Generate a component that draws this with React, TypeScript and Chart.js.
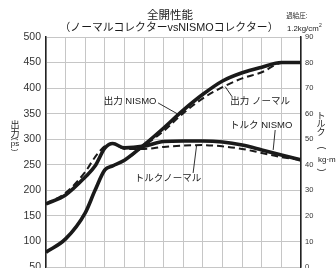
import React, { useEffect, useRef } from "react";
import { Chart, registerables } from "chart.js";

Chart.register(...registerables);

// ---- data (rpm on x, ps on left axis, kg·m on right axis) ----
const rpm = [2000, 2500, 3000, 3250, 3500, 3700, 4000, 4500, 5000, 5500, 6000, 6500, 7000, 7500, 8000, 8500];
const powerNismo = [79, 105, 156, 200, 240, 248, 259, 289, 322, 357, 388, 414, 430, 441, 450, 450];
const powerNormal = [79, 105, 156, 200, 240, 248, 259, 287, 316, 351, 380, 402, 419, 431, 449, 450];
const torqueNismo = [24.7, 28.2, 35.2, 39.5, 46.5, 48.3, 46.6, 47.3, 49.1, 49.3, 49.3, 48.9, 47.7, 45.8, 43.8, 41.9];
const torqueNormal = [24.7, 29.0, 37.2, 43.0, 47.3, 48.3, 46.2, 46.2, 47.0, 47.5, 47.7, 47.2, 46.2, 44.6, 43.0, 41.9];

const powerTicks = { min: 50, max: 500, step: 50 };
const torqueTicks = { min: 0, max: 90, step: 10 };
const rpmRange = { min: 2000, max: 8500, step: 500 };

const TITLE = "全開性能";
const SUBTITLE = "（ノーマルコレクターvsNISMOコレクター）";
const BOOST_LABEL = "過給圧:";
const BOOST_VALUE = "1.2kg/cm";

// annotation labels: text anchor and leader line in data units (rpm, ps)
const labelTexts = ["出力 NISMO", "出力 ノーマル", "トルク NISMO", "トルクノーマル"];
const labelAnchors = [
  [4143, 374],
  [7459, 375],
  [7485, 327],
  [5112, 224],
];
const leaderLines = [
  [4857, 371, 5342, 350],
  [6566, 403, 6745, 383],
  [7842, 318, 7791, 279],
  [5750, 234, 5839, 288],
];

const FONT = '"Liberation Sans", Arial, "Noto Sans CJK JP", sans-serif';
const INK = "#1a1a1a";

function rotText(ctx: CanvasRenderingContext2D, t: string, x: number, y: number) {
  ctx.save();
  ctx.translate(x, y);
  ctx.rotate(Math.PI / 2);
  ctx.fillText(t, 0, 0);
  ctx.restore();
}

const textPlugin = {
  id: "texts",
  afterDraw(chart: any) {
    const ctx = chart.ctx as CanvasRenderingContext2D;
    const xs = chart.scales.x;
    const ys = chart.scales.y;
    ctx.save();
    ctx.fillStyle = INK;
    ctx.strokeStyle = INK;
    ctx.textAlign = "center";
    ctx.textBaseline = "middle";

    // titles
    ctx.font = `11.5px ${FONT}`;
    ctx.fillText(TITLE, 170, 16);
    ctx.font = `10.8px ${FONT}`;
    ctx.fillText(SUBTITLE, 169, 28.5);

    // boost
    ctx.font = `6.5px ${FONT}`;
    ctx.fillText(BOOST_LABEL, 297, 16);
    ctx.font = `7.8px ${FONT}`;
    ctx.textAlign = "left";
    ctx.fillText(BOOST_VALUE, 287, 28.5);
    const w = ctx.measureText(BOOST_VALUE).width;
    ctx.font = `5px ${FONT}`;
    ctx.fillText("2", 287 + w + 0.3, 25.5);
    ctx.textAlign = "center";

    // left axis title (vertical)
    ctx.font = `9px ${FONT}`;
    ctx.fillText("出", 15, 126);
    ctx.fillText("力", 15, 134.5);
    ctx.font = `8px ${FONT}`;
    rotText(ctx, "(", 15, 139);
    ctx.fillText("ps", 15, 144);
    rotText(ctx, ")", 15, 150);

    // right axis title (vertical)
    ctx.font = `9px ${FONT}`;
    ctx.fillText("ト", 321, 116.5);
    ctx.fillText("ル", 321, 124.5);
    ctx.fillText("ク", 321, 133);
    ctx.font = `8.5px ${FONT}`;
    rotText(ctx, "(", 321.5, 148);
    rotText(ctx, ")", 321.5, 170);
    ctx.font = `8px ${FONT}`;
    ctx.textAlign = "left";
    ctx.fillText("kg·m", 318, 160);
    ctx.textAlign = "center";

    // annotations
    ctx.font = `9.5px ${FONT}`;
    labelTexts.forEach((t, i) => {
      const [ax, ay] = labelAnchors[i];
      ctx.fillText(t, xs.getPixelForValue(ax), ys.getPixelForValue(ay));
      const [x1, y1, x2, y2] = leaderLines[i];
      ctx.lineWidth = 0.9;
      ctx.beginPath();
      ctx.moveTo(xs.getPixelForValue(x1), ys.getPixelForValue(y1));
      ctx.lineTo(xs.getPixelForValue(x2), ys.getPixelForValue(y2));
      ctx.stroke();
    });
    ctx.restore();
  },
};

function pts(vals: number[]) {
  return rpm.map((r, i) => ({ x: r, y: vals[i] }));
}

export default function App() {
  const ref = useRef<HTMLCanvasElement>(null);
  useEffect(() => {
    if (!ref.current) return;
    const solid = { borderColor: INK, borderWidth: 3.6, pointRadius: 0, fill: false, cubicInterpolationMode: "monotone" as const };
    const dashed = { borderColor: INK, borderWidth: 2, borderDash: [7, 4], pointRadius: 0, fill: false, cubicInterpolationMode: "monotone" as const };
    const chart = new Chart(ref.current, {
      type: "line",
      data: {
        datasets: [
          { label: "出力 NISMO", data: pts(powerNismo), yAxisID: "y", order: 0, ...solid },
          { label: "トルク NISMO", data: pts(torqueNismo), yAxisID: "y1", order: 0, ...solid },
          { label: "出力 ノーマル", data: pts(powerNormal), yAxisID: "y", order: 1, ...dashed },
          { label: "トルクノーマル", data: pts(torqueNormal), yAxisID: "y1", order: 1, ...dashed },
        ],
      },
      options: {
        responsive: false,
        animation: false,
        layout: { padding: { top: 37, left: 0, right: 0, bottom: 0 } },
        plugins: { legend: { display: false }, tooltip: { enabled: false }, title: { display: false } },
        scales: {
          x: {
            type: "linear",
            min: rpmRange.min,
            max: rpmRange.max,
            ticks: { stepSize: rpmRange.step, display: false },
            grid: { color: "#c6c6c6", lineWidth: 1, drawTicks: false },
            border: { display: false },
            afterFit(s: any) { s.height = 33; },
          },
          y: {
            position: "left",
            min: powerTicks.min,
            max: powerTicks.max,
            ticks: { stepSize: powerTicks.step, color: "#333", padding: 5, font: { size: 10.5, family: FONT } },
            grid: { color: "#c6c6c6", lineWidth: 1, drawTicks: false },
            border: { display: true, color: "#222", width: 1.5 },
            afterFit(s: any) { s.width = 46; },
          },
          y1: {
            position: "right",
            min: torqueTicks.min,
            max: torqueTicks.max,
            ticks: { stepSize: torqueTicks.step, color: "#333", padding: 4, font: { size: 7.5, family: FONT } },
            grid: { display: false, drawTicks: false },
            border: { display: true, color: "#222", width: 1.5 },
            afterFit(s: any) { s.width = 35; },
          },
        },
      },
      plugins: [textPlugin],
    });
    return () => chart.destroy();
  }, []);
  return (
    <div style={{ position: "absolute", left: 0, top: 0, width: 336, height: 300, background: "#fff" }}>
      <canvas ref={ref} width={336} height={300} style={{ display: "block" }} />
    </div>
  );
}
